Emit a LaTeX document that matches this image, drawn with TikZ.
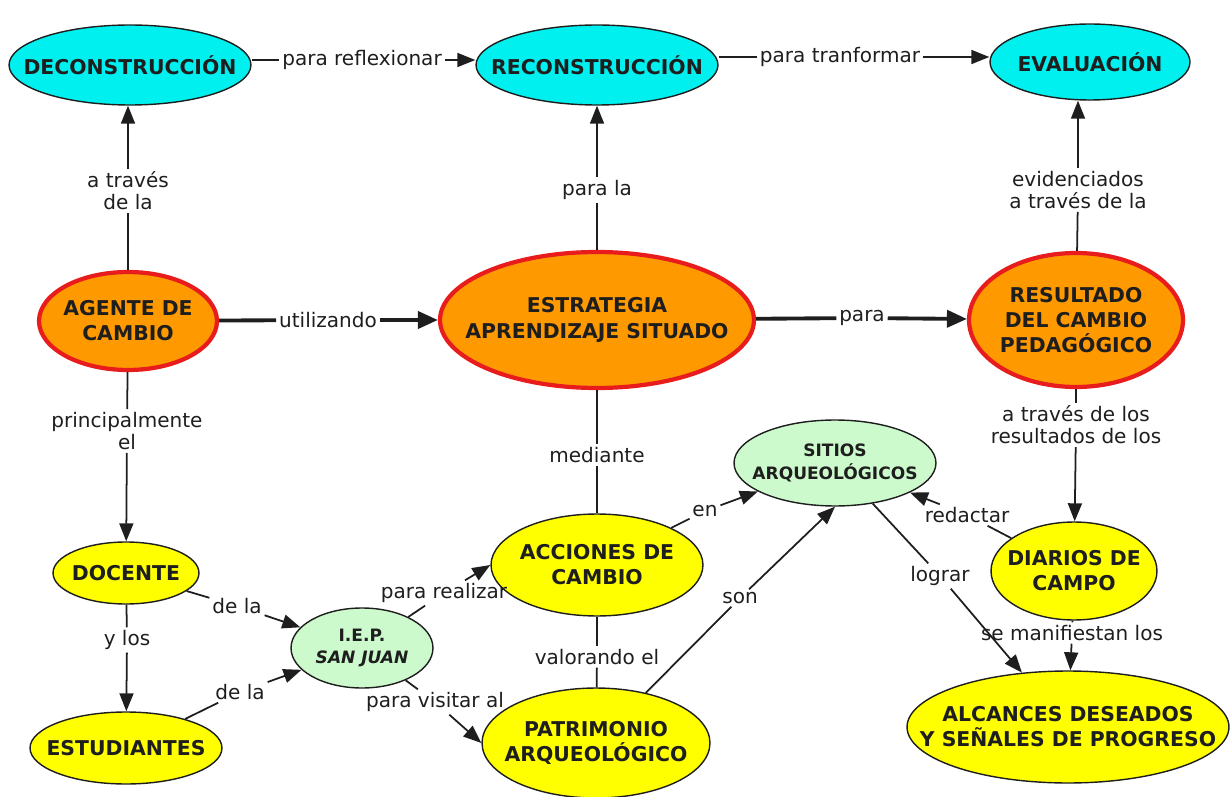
\documentclass[tikz,border=0pt]{standalone}
\usepackage{fontspec}
\setmainfont{DejaVu Sans}
\usetikzlibrary{shapes.geometric,arrows.meta}
\definecolor{cian}{RGB}{0,240,240}
\definecolor{naranja}{RGB}{255,153,0}
\definecolor{rojo}{RGB}{232,28,28}
\definecolor{amarillo}{RGB}{255,255,0}
\definecolor{verde}{RGB}{204,250,204}
\definecolor{tinta}{RGB}{30,30,30}

\tikzset{
  concepto/.style={ellipse, inner sep=0pt, draw=tinta, line width=0.8pt},
  celeste/.style={concepto, fill=cian},
  naranjo/.style={concepto, fill=naranja, draw=rojo, line width=2.4pt},
  amar/.style={concepto, fill=amarillo},
  pastel/.style={concepto, fill=verde},
  ctext/.style={font=\bfseries\fontsize{11.6}{14.3}\selectfont, text=tinta, align=center},
  csmall/.style={font=\bfseries\fontsize{9.7}{13}\selectfont, text=tinta, align=center},
  rel/.style={font=\fontsize{11.4}{12.6}\selectfont, text=tinta, align=center, inner sep=1.5pt},
  linea/.style={draw=tinta, line width=1pt},
  flecha/.style={linea, -{Triangle[length=0.36cm, width=0.28cm]}},
  grueso/.style={draw=tinta, line width=2.2pt},
  gflecha/.style={grueso, -{Triangle[length=0.4cm, width=0.34cm]}}
}

\begin{document}
\begin{tikzpicture}[x=0.02cm, y=-0.02cm]
\useasboundingbox (0,0) rectangle (1231,797);

% conceptos
\node[celeste, minimum width=4.84cm, minimum height=1.6cm, label={[ctext]center:DECONSTRUCCIÓN}] (decon) at (130,65) {};
\node[celeste, minimum width=4.84cm, minimum height=1.6cm, label={[ctext]center:RECONSTRUCCIÓN}] (recon) at (597,65) {};
\node[celeste, minimum width=4cm, minimum height=1.52cm, label={[ctext]center:EVALUACIÓN}] (evalu) at (1090,62) {};
\node[naranjo, minimum width=3.56cm, minimum height=1.96cm, label={[ctext]center:AGENTE DE\\CAMBIO}] (agente) at (128,321) {};
\node[naranjo, minimum width=6.28cm, minimum height=2.72cm, label={[ctext]center:ESTRATEGIA\\APRENDIZAJE SITUADO}] (estrat) at (597,320) {};
\node[naranjo, minimum width=4.28cm, minimum height=2.68cm, label={[ctext]center:RESULTADO\\DEL CAMBIO\\PEDAGÓGICO}] (result) at (1076,320) {};
\node[pastel, minimum width=4.04cm, minimum height=1.72cm, label={[csmall]center:SITIOS\\ARQUEOLÓGICOS}] (sitios) at (835,463) {};
\node[amar, minimum width=2.92cm, minimum height=1.24cm, label={[ctext]center:DOCENTE}] (docente) at (126,573) {};
\node[amar, minimum width=3.84cm, minimum height=1.44cm, label={[ctext]center:ESTUDIANTES}] (estud) at (126,748) {};
\node[pastel, minimum width=2.84cm, minimum height=1.6cm, label={[csmall]center:I.E.P.\\\itshape SAN JUAN}] (iep) at (362,648) {};
\node[amar, minimum width=4.24cm, minimum height=2.04cm, label={[ctext]center:ACCIONES DE\\CAMBIO}] (acciones) at (597,565) {};
\node[amar, minimum width=4.56cm, minimum height=2.2cm, label={[ctext]center:PATRIMONIO\\ARQUEOLÓGICO}] (patrim) at (596,743) {};
\node[amar, minimum width=3.32cm, minimum height=1.96cm, label={[ctext]center:DIARIOS DE\\CAMPO}] (diarios) at (1074,571) {};
\node[amar, minimum width=6.44cm, minimum height=2.24cm, label={[ctext]center:ALCANCES DESEADOS\\Y SEÑALES DE PROGRESO}] (alcances) at (1068,727) {};

% frases de enlace
\node[rel] (lrefl) at (362,60) {para reflexionar};
\node[rel] (ltransf) at (840,57) {para tranformar};
\node[rel] (ltrav) at (128,191) {a través\\de la};
\node[rel] (lparala) at (597,190) {para la};
\node[rel] (levid) at (1078,190) {evidenciados\\a través de la};
\node[rel] (lutil) at (328,320) {utilizando};
\node[rel] (lpara) at (862,318) {para};
\node[rel] (lprinc) at (127,431) {principalmente\\el};
\node[rel] (lylos) at (127,640) {y los};
\node[rel] (ldela1) at (237,606) {de la};
\node[rel] (ldela2) at (240,692) {de la};
\node[rel] (lreal) at (444,593) {para realizar};
\node[rel] (lvisit) at (435,702) {para visitar al};
\node[rel] (lmed) at (597,455) {mediante};
\node[rel] (lvalor) at (597,657) {valorando el};
\node[rel] (len) at (705,511) {en};
\node[rel] (lson) at (740,598) {son};
\node[rel] (llograr) at (940,576) {lograr};
\node[rel] (ltravlos) at (1076,425) {a través de los\\resultados de los};
\node[rel] (lredac) at (967,515) {redactar};
\node[rel] (lmanif) at (1072,633) {se manifiestan los};

% conectores
\draw[linea] (decon.east |- lrefl) -- (lrefl);
\draw[flecha] (lrefl) -- (recon.west |- lrefl);
\draw[linea] (recon.east |- ltransf) -- (ltransf);
\draw[flecha] (ltransf) -- (evalu.west |- ltransf);
\draw[linea] (agente) -- (ltrav);
\draw[flecha] (ltrav) -- (ltrav |- decon.south);
\draw[linea] (estrat) -- (lparala);
\draw[flecha] (lparala) -- (recon);
\draw[linea] (result) -- (levid);
\draw[flecha] (levid) -- (levid |- evalu.south);
\draw[grueso] (agente) -- (lutil);
\draw[gflecha] (lutil) -- (estrat);
\draw[grueso] (estrat) -- (lpara);
\draw[gflecha] (lpara) -- (result);
\draw[linea] (agente) -- (lprinc);
\draw[flecha] (lprinc) -- (docente);
\draw[linea] (docente) -- (lylos);
\draw[flecha] (lylos) -- (estud);
\draw[linea] (docente) -- (ldela1);
\draw[flecha] (ldela1) -- (iep);
\draw[linea] (estud) -- (ldela2);
\draw[flecha] (ldela2) -- (iep);
\draw[linea] (iep) -- (lreal);
\draw[flecha] (lreal) -- (acciones.west);
\draw[linea] (iep) -- (lvisit);
\draw[flecha] (lvisit) -- (patrim.west);
\draw[linea] (estrat) -- (lmed);
\draw[linea] (lmed) -- (acciones);
\draw[linea] (acciones) -- (lvalor);
\draw[linea] (lvalor) -- (patrim);
\draw[linea] (acciones) -- (len);
\draw[flecha] (len) -- (sitios);
\draw[linea] (patrim) -- (lson);
\draw[flecha] (lson) -- (sitios.south);
\draw[linea] (sitios) -- (llograr);
\draw[flecha] (llograr) -- (alcances);
\draw[linea] (result) -- (ltravlos);
\draw[flecha] (ltravlos) -- (diarios);
\draw[linea] (diarios) -- (lredac);
\draw[flecha] (lredac) -- (sitios);
\draw[linea] (diarios) -- (lmanif);
\draw[flecha] (lmanif) -- (alcances);
\end{tikzpicture}
\end{document}
